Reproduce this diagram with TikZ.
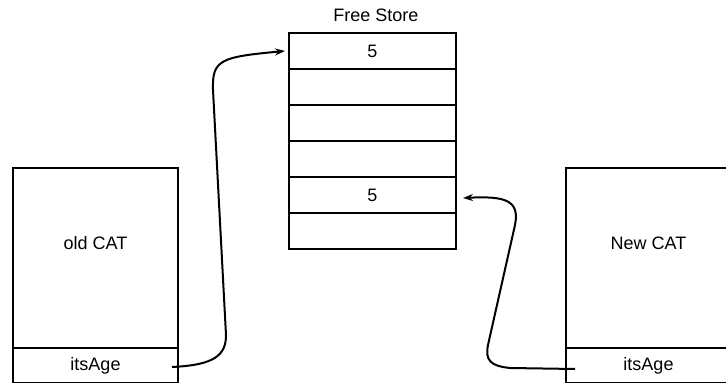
\documentclass[tikz,border=0pt]{standalone}
\usepackage{fontspec}
\setmainfont{Liberation Sans}
\usetikzlibrary{arrows.meta}

\begin{document}
\begin{tikzpicture}[x=1pt, y=1pt, font=\fontsize{18}{22}\selectfont,
    cell/.style={draw, line width=2pt, outer sep=0pt, minimum width=167pt, minimum height=36pt},
    catbox/.style={draw, line width=2pt, outer sep=0pt, minimum width=165pt},
    ptr/.style={line width=2pt, -{Stealth[length=10pt, width=7pt]}}]
  \useasboundingbox (0,0) rectangle (726,383);
  % free store
  \node (title) at (376,368) {Free Store};
  \foreach \v [count=\i] in {5,{},{},{},5,{}}
    \node (r\i) [cell] at (372.5, 332-36*\i+36) {\v};
  % old CAT
  \node (oldcat) [catbox, minimum height=180pt] at (95.5,125) {};
  \node (oldlbl) at (95.5,140) {old CAT};
  \node (oldage) [catbox, minimum height=35pt] at (95.5,17.5) {itsAge};
  % New CAT
  \node (newcat) [catbox, minimum height=180pt] at (648.5,125) {};
  \node (newlbl) at (648.5,140) {New CAT};
  \node (newage) [catbox, minimum height=35pt] at (648.5,17.5) {itsAge};
  % pointers
  \draw [ptr] ([shift={(-6,-1.5)}]oldage.east) .. controls (215,18) and (226,28) .. (226,48)
    -- (213,293) .. controls (212,323) and (220,326) .. ([xshift=-4pt]r1.west);
  \draw [ptr] ([shift={(9,-3.5)}]newage.west) -- (510,15) .. controls (490,17) and (485,23) .. (488,38)
    -- (515,158) .. controls (520,183) and (505,187) .. ([shift={(7,-3)}]r5.east);
\end{tikzpicture}
\end{document}
